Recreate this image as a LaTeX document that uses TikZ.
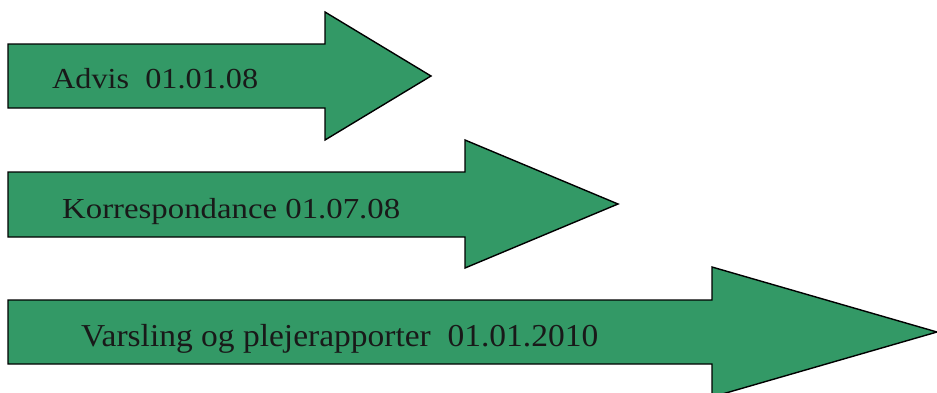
\documentclass[tikz,border=0pt]{standalone}
\usepackage{fontspec}
\setmainfont{Liberation Serif}
\definecolor{arrowgreen}{RGB}{51,153,102}
\begin{document}
\begin{tikzpicture}[x=1pt,y=-1pt,
  arrowshape/.style={draw=black,fill=arrowgreen,line width=1.4pt,line join=miter},
  lbl/.style={anchor=base west,inner sep=0pt,text=black!90,font=\fontsize{29}{31}\selectfont}]
\useasboundingbox (0,0) rectangle (937,392);
\draw[arrowshape] (8,44) -- (325,44) -- (325,12) -- (431,76) -- (325,140) -- (325,108) -- (8,108) -- cycle;
\draw[arrowshape] (8,172) -- (465,172) -- (465,140) -- (618,204) -- (465,268) -- (465,237) -- (8,237) -- cycle;
\draw[arrowshape] (8,300) -- (712,300) -- (712,267) -- (937,332) -- (712,397) -- (712,364) -- (8,364) -- cycle;
\node[lbl] (t1) at (52,88) {\resizebox{206pt}{\height}{Advis\ \ 01.01.08}};
\node[lbl] (t2) at (62,218) {\resizebox{338pt}{\height}{Korrespondance 01.07.08}};
\node[lbl] (t3) at (81,346) {\resizebox{517pt}{1.1\height}{Varsling og plejerapporter\ \ 01.01.2010}};
\end{tikzpicture}
\end{document}
